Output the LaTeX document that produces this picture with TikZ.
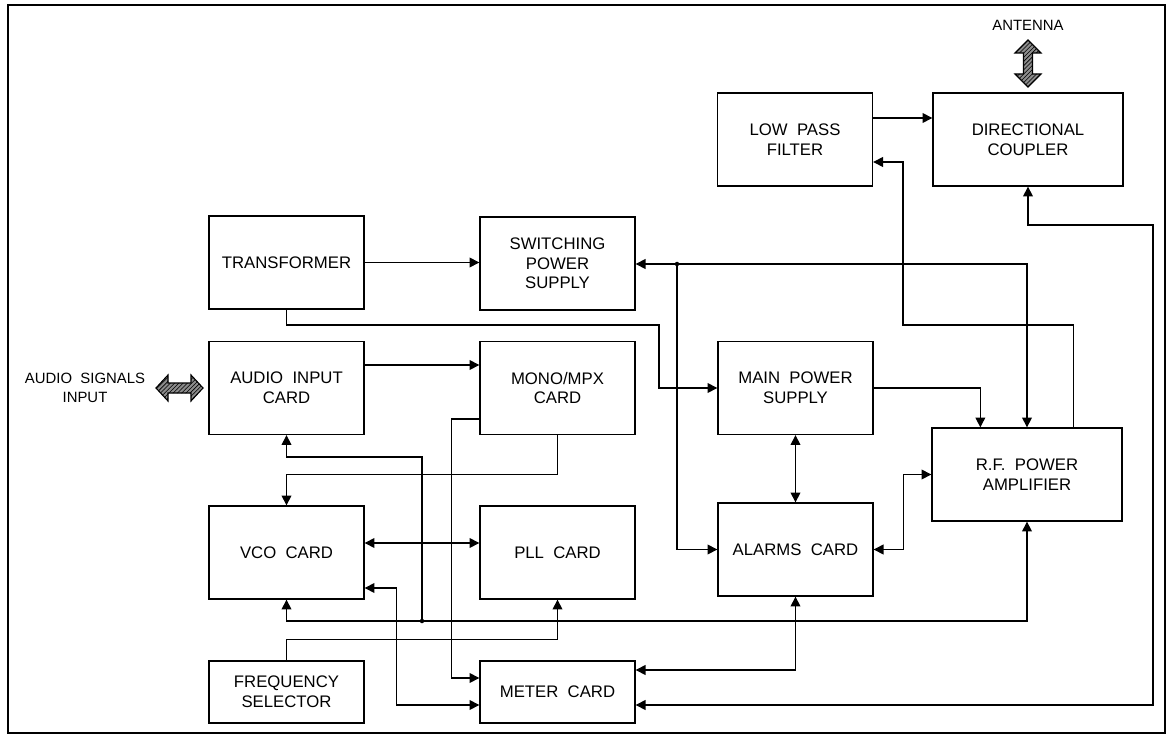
\documentclass[tikz,border=0pt]{standalone}
\usepackage{fontspec}
\setmainfont{Liberation Sans}
\usepackage{tikz}
\usetikzlibrary{calc}
\usetikzlibrary{arrows.meta}
\usetikzlibrary{patterns}

\begin{document}
\begin{tikzpicture}[x=0.025cm,y=-0.025cm,
    box/.style={draw,line width=0.9pt,inner sep=0pt,align=center,
      minimum width=3.875cm,minimum height=2.325cm,
      font=\fontsize{11.9}{14}\selectfont},
    wide/.style={minimum width=4.75cm},
    low/.style={minimum height=1.55cm},
    lbl/.style={align=center,inner sep=0pt,font=\fontsize{10.6}{13}\selectfont},
    wire/.style={line width=0.8pt},
    arr/.style={wire,-{Triangle[length=7pt,width=7pt]}},
    darr/.style={wire,{Triangle[length=7pt,width=7pt]}-{Triangle[length=7pt,width=7pt]}},
    fat/.style={line width=0.8pt,fill=black!45,postaction={pattern=north east lines}}]
    \useasboundingbox (0,0) rectangle (1172,735);
    \draw[line width=2pt] (8,5) rectangle (1165,733);

    \node[box] (tr) at (286.5,262.5) {TRANSFORMER};
    \node[box] (sps) at (557.5,263.5) {SWITCHING\\POWER\\SUPPLY};
    \node[box] (lpf) at (795,139.5) {LOW\ \ PASS\\FILTER};
    \node[box,wide] (dc) at (1028,139.5) {DIRECTIONAL\\COUPLER};
    \node[box] (aic) at (286.5,388) {AUDIO\ \ INPUT\\CARD};
    \node[box] (mpx) at (557.5,388) {MONO/MPX\\CARD};
    \node[box] (mps) at (795.5,388) {MAIN\ \ POWER\\SUPPLY};
    \node[box,wide] (rfa) at (1027,474.5) {R.F.\ \ POWER\\AMPLIFIER};
    \node[box] (vco) at (286.5,552.5) {VCO\ \ CARD};
    \node[box] (pll) at (557.5,552.5) {PLL\ \ CARD};
    \node[box] (als) at (795.5,549.5) {ALARMS\ \ CARD};
    \node[box,low] (frs) at (286.5,692) {FREQUENCY\\SELECTOR};
    \node[box,low] (met) at (557.5,692) {METER\ \ CARD};

    \node[lbl] (asi) at (85,388) {AUDIO\ \ SIGNALS\\INPUT};
    \node[lbl] (ant) at (1028,25) {ANTENNA};
    \draw[fat] (156,388) -- ++(12,-13) -- ++(0,8) -- ++(23,0) -- ++(0,-8) -- ++(12,13)
      -- ++(-12,13) -- ++(0,-8) -- ++(-23,0) -- ++(0,8) -- cycle;
    \draw[fat] (1028,40) -- ++(13,13) -- ++(-8.5,0) -- ++(0,21) -- ++(8.5,0) -- ++(-13,13)
      -- ++(-13,-13) -- ++(8.5,0) -- ++(0,-21) -- ++(-8.5,0) -- cycle;

    \coordinate (j1) at (677,264);
    \coordinate (j2) at (422,621);
    \fill (j1) circle[radius=1.6pt];
    \fill (j2) circle[radius=1.6pt];

    \draw[arr] (tr.east) -- (tr.east -| sps.west);
    \draw[arr] (tr.south) |- (659,325) |- (mps.west);
    \draw[arr] ($(aic.east)+(0,-23)$) -- ($(mpx.west)+(0,-23)$);
    \draw[arr] (j1) -- (j1 -| sps.east);
    \draw[arr] (j1) -| (rfa.north);
    \draw[arr] (j1) |- (als.west);
    \draw[arr] (mps.east) -| ($(rfa.north west)+(49,0)$);
    \draw[darr] (mps.south) -- (als.north);
    \draw[darr] (als.east) -- ++(30,0) |- (rfa.west);
    \draw[arr] ($(rfa.north west)+(142,0)$) |- (903,325) |- ($(lpf.east)+(0,22.5)$);
    \draw[arr] ($(lpf.east)+(0,-21.5)$) -- ($(dc.west)+(0,-21.5)$);
    \draw[darr] ($(met.east)+(0,13)$) -| (1153,225) -| (dc.south);
    \draw[darr] ($(met.east)+(0,-22)$) -| (als.south);
    \draw[arr] ($(mpx.west)+(0,31)$) -- ++(-28,0) |- ($(met.west)+(0,-14)$);
    \draw[arr] (mpx.south) -- ++(0,39) -| (vco.north);
    \draw[darr] ($(vco.east)+(0,-9.5)$) -- ($(pll.west)+(0,-9.5)$);
    \draw[darr] ($(vco.east)+(0,35.5)$) -- ++(32,0) |- ($(met.west)+(0,13)$);
    \draw[arr] (j2) -- (422,457) -| (aic.south);
    \draw[arr] (j2) -| (vco.south);
    \draw[arr] (j2) -| (rfa.south);
    \draw[arr] (frs.north) -- ++(0,-21) -| (pll.south);
\end{tikzpicture}
\end{document}
